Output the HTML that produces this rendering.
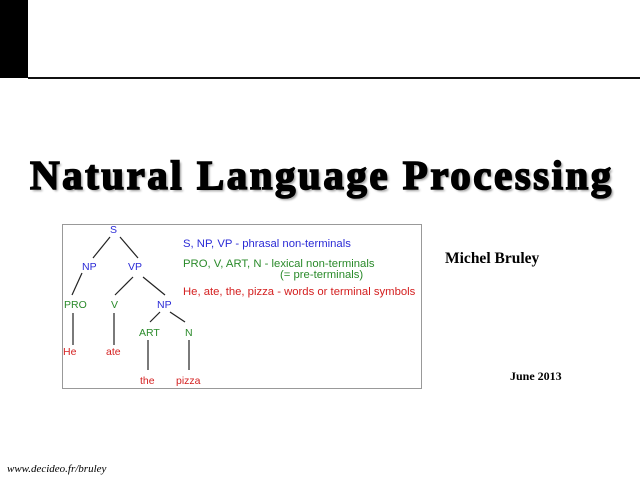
<!DOCTYPE html>
<html><head><meta charset="utf-8"><style>
body{margin:0;width:640px;height:480px;background:#fff;position:relative;overflow:hidden;font-family:"Liberation Serif",serif}
.a{position:absolute;white-space:nowrap}
.t{font-family:"Liberation Sans",sans-serif;font-size:10.5px}
.l{font-size:11.3px}
.b{color:#2b2bd6}.g{color:#2a8a2a}.r{color:#d42020}
</style></head><body>
<div class="a" style="left:0;top:0;width:28px;height:78px;background:#000"></div>
<div class="a" style="left:28px;top:77px;width:612px;height:2px;background:#111"></div>
<div class="a" style="left:30px;top:151px;font-size:41px;font-weight:bold;color:#000;letter-spacing:2.5px;-webkit-text-stroke:1.6px #000;text-shadow:2px 2px 2px #999">Natural Language Processing</div>
<div class="a" style="left:62px;top:224px;width:358px;height:163px;border:1px solid #999"></div>
<svg class="a" style="left:0;top:0" width="640" height="480">
<g stroke="#222" stroke-width="1.2">
<line x1="110" y1="237" x2="93" y2="258"/><line x1="120" y1="237" x2="138" y2="258"/>
<line x1="82" y1="273" x2="72" y2="295"/>
<line x1="133" y1="277" x2="115" y2="295"/><line x1="143" y1="277" x2="165" y2="295"/>
<line x1="160" y1="312" x2="150" y2="322"/><line x1="170" y1="312" x2="185" y2="322"/>
<line x1="73" y1="313" x2="73" y2="345"/><line x1="114" y1="313" x2="114" y2="345"/>
<line x1="148" y1="340" x2="148" y2="370"/><line x1="189" y1="340" x2="189" y2="370"/>
</g></svg>
<div class="a t b" style="left:110px;top:224px">S</div>
<div class="a t b" style="left:82px;top:261px">NP</div>
<div class="a t b" style="left:128px;top:261px">VP</div>
<div class="a t g" style="left:64px;top:299px">PRO</div>
<div class="a t g" style="left:111px;top:299px">V</div>
<div class="a t b" style="left:157px;top:299px">NP</div>
<div class="a t g" style="left:139px;top:327px">ART</div>
<div class="a t g" style="left:185px;top:327px">N</div>
<div class="a t r" style="left:63px;top:346px">He</div>
<div class="a t r" style="left:106px;top:346px">ate</div>
<div class="a t r" style="left:140px;top:375px">the</div>
<div class="a t r" style="left:176px;top:375px">pizza</div>
<div class="a t l b" style="left:183px;top:238px">S, NP, VP - phrasal non-terminals</div>
<div class="a t l g" style="left:183px;top:258px">PRO, V, ART, N - lexical non-terminals</div>
<div class="a t l g" style="left:280px;top:269px">(= pre-terminals)</div>
<div class="a t l r" style="left:183px;top:286px">He, ate, the, pizza - words or terminal symbols</div>
<div class="a" style="left:445px;top:250px;font-size:15.5px;font-weight:bold">Michel Bruley</div>
<div class="a" style="left:510px;top:369px;font-size:12px;font-weight:bold">June 2013</div>
<div class="a" style="left:7px;top:463px;font-size:11px;font-style:italic">www.decideo.fr/bruley</div>
</body></html>
